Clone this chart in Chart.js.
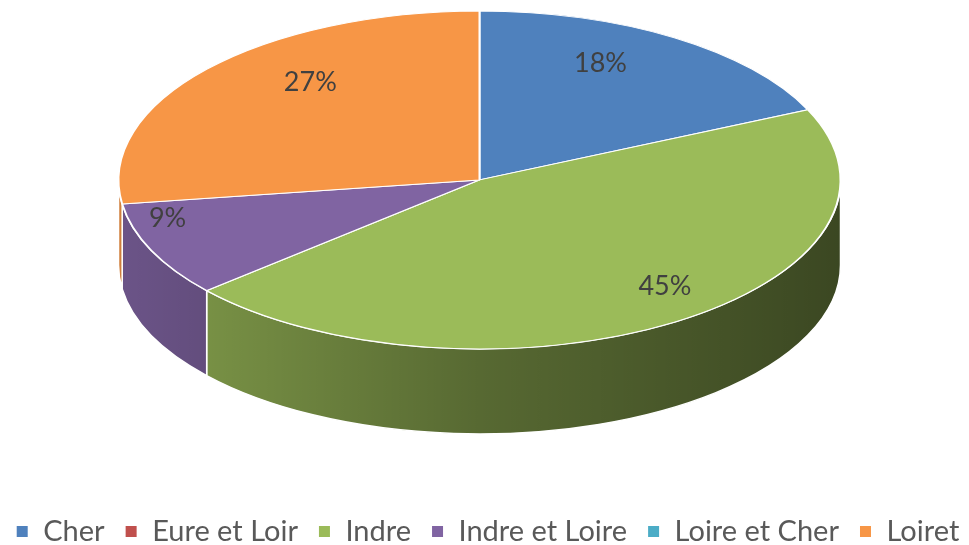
<!DOCTYPE html>
<html>
<head>
<meta charset="utf-8">
<script src="https://cdn.jsdelivr.net/npm/chart.js@4.4.0/dist/chart.umd.min.js"></script>
<style>
  html, body { margin: 0; padding: 0; background: #fff; }
  #wrap { width: 969px; height: 545px; }
</style>
</head>
<body>
<div id="wrap"><canvas id="pieChart" width="969" height="545"></canvas></div>
<script>
// data
var departements = ['Cher', 'Eure et Loir', 'Indre', 'Indre et Loire', 'Loire et Cher', 'Loiret'];
var nombres = [2, 0, 5, 1, 0, 3];
var couleurs = ['#4F81BD', '#C0504D', '#9BBB59', '#8064A2', '#4BACC6', '#F79646'];

// look of the 3D disc
var TILT = 0.468;   // ellipse height / width
var DEPTH = 85;     // thickness of the disc
var RADIUS = 361;
var TOP_GAP = 11;
var SHIFT_X = -5;   // pie sits a little left of the legend centre

var pie3d = {
  id: 'pie3d',
  beforeDatasetsDraw: function(chart) {
    var ctx = chart.ctx;
    var arcs = chart.getDatasetMeta(0).data;
    var cy = arcs[0].y;
    var cx = arcs[0].x + SHIFT_X;
    var r = arcs[0].outerRadius;
    var ry = r * TILT;
    var vy = ry + TOP_GAP;
    chart.$pie3d = { cx: cx, vy: vy, r: r, ry: ry };

    // side walls (front half only), darker towards the right
    var shade = ctx.createLinearGradient(cx - r, 0, cx + r, 0);
    shade.addColorStop(0, 'rgba(0,0,0,0.16)');
    shade.addColorStop(0.5, 'rgba(0,0,0,0.44)');
    shade.addColorStop(1, 'rgba(0,0,0,0.62)');
    arcs.forEach(function(arc, i) {
      var a = Math.max(arc.startAngle, 0);
      var b = Math.min(arc.endAngle, Math.PI);
      if (b <= a) return;
      ctx.beginPath();
      ctx.ellipse(cx, vy, r, ry, 0, a, b);
      ctx.ellipse(cx, vy + DEPTH, r, ry, 0, b, a, true);
      ctx.closePath();
      ctx.fillStyle = couleurs[i];
      ctx.fill();
      ctx.fillStyle = shade;
      ctx.fill();
      ctx.strokeStyle = '#fff';
      ctx.lineWidth = 1.5;
      ctx.stroke();
    });

    // squash the top face
    ctx.save();
    ctx.translate(cx, vy);
    ctx.scale(1, TILT);
    ctx.translate(-arcs[0].x, -cy);
  },
  afterDatasetsDraw: function(chart) {
    var ctx = chart.ctx;
    ctx.restore();

    var p = chart.$pie3d;
    var arcs = chart.getDatasetMeta(0).data;
    var total = nombres.reduce(function(s, v) { return s + v; }, 0);
    ctx.save();
    ctx.font = '27px Lato';
    ctx.fillStyle = '#404040';
    ctx.textAlign = 'center';
    ctx.textBaseline = 'middle';
    arcs.forEach(function(arc, i) {
      if (!nombres[i]) return;
      var m = (arc.startAngle + arc.endAngle) / 2;
      var f = Math.sin(m) > 0 ? 0.95 : 0.62;
      var x = p.cx + f * p.r * Math.cos(m);
      var y = p.vy - 0.17 * p.ry + f * p.ry * Math.sin(m);
      ctx.fillText(Math.round(nombres[i] / total * 100) + '%', x, y);
    });
    ctx.restore();
  }
};

var ctx = document.getElementById('pieChart').getContext('2d');
var chart = new Chart(ctx, {
  type: 'pie',
  data: {
    labels: departements,
    datasets: [{
      data: nombres,
      backgroundColor: couleurs,
      borderColor: '#fff',
      borderWidth: 2,
      radius: RADIUS,
      clip: false
    }]
  },
  options: {
    responsive: false,
    animation: false,
    events: [],
    layout: { padding: { left: -11, right: -17, bottom: -11 } },
    plugins: {
      legend: {
        position: 'bottom',
        labels: {
          boxWidth: 13,
          boxHeight: 13,
          padding: 20,
          color: '#595959',
          font: { family: 'Lato', size: 29 }
        }
      },
      tooltip: { enabled: false }
    }
  },
  plugins: [pie3d]
});
</script>
</body>
</html>
